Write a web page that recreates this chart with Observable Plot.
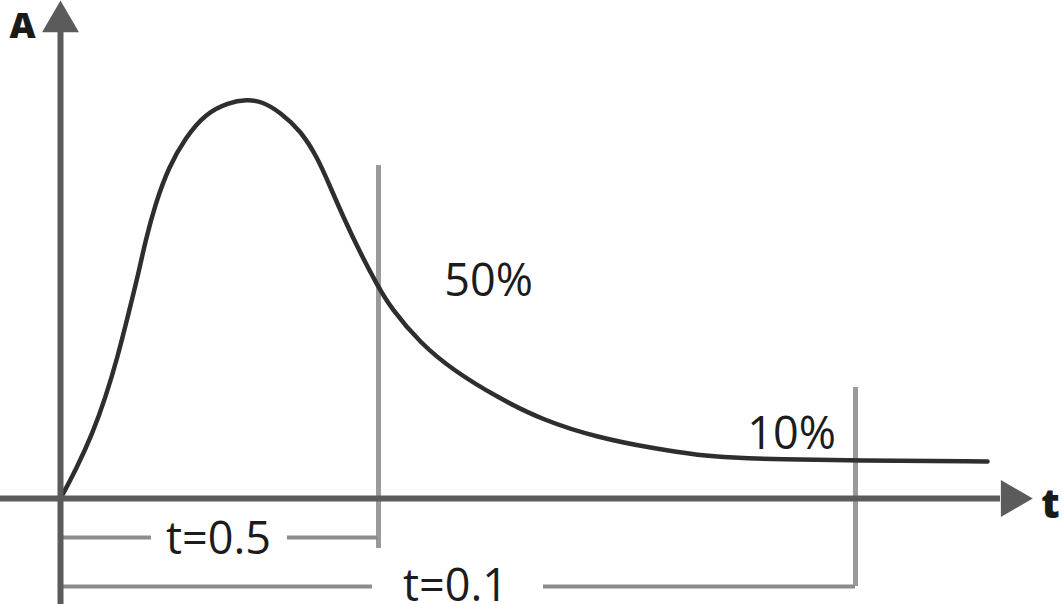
<!DOCTYPE html>
<html>
<head>
<meta charset="utf-8">
<script src="https://cdn.jsdelivr.net/npm/d3@7"></script>
<script src="https://cdn.jsdelivr.net/npm/@observablehq/plot@0.6"></script>
<style>
  html, body { margin: 0; padding: 0; background: #ffffff; }
  #chart svg { display: block; }
</style>
</head>
<body>
<div id="chart"></div>
<script>
// Curve (t, A)
const curveT = [0, 1.6, 3.2, 4.5, 5.7, 6.7, 7.7, 8.5, 9.5, 10.8, 12.5, 14.5, 16.8, 18.6, 20.2, 22, 24, 25.7, 27, 28.3, 30, 31.7, 33, 36, 39.3, 43.7, 48.3, 53.7, 59.3, 64, 67, 72, 79.3, 92.7];
const curveA = [0, 7.5, 16.25, 25.25, 35.25, 45.25, 55.25, 64.5, 73.75, 82.75, 90.25, 96.25, 99, 99.75, 99.25, 96.5, 92, 85.25, 77.75, 70.25, 61.25, 53.25, 47.75, 38.75, 32, 25.25, 19.5, 15.25, 12.5, 10.75, 10.25, 9.75, 9.5, 9.25];

// Vertical marker lines (t position, top, bottom)
const markerT = [31.8, 79.5];
const markerTop = [83.25, 27.75];
const markerBottom = [-12.5, -22];

// Level labels
const levelLabels = ["50%", "10%"];
const levelT = [42.8, 73.1];
const levelA = [50.75, 12.5];

// Dimension lines: labels, level, segment ends
const dimLabels = ["t=0.5", "t=0.1"];
const dimLevel = [-9.75, -22];
const dimLabelLevel = [-13.75, -25.5];
const dimLabelT = [15.8, 39.5];
const dimSeg1End = [9.1, 31.2];
const dimSeg2Start = [22.7, 48.3];

// Axes
const axisNames = ["A", "t"];
const axisNameT = [-3.8, 99];
const axisNameA = [115.25, -4.75];
const yAxisRange = [-26.5, 116.5];
const xAxisRange = [-6, 94];
const arrowT = [0, 95.1];
const arrowA = [119.2, 0];
const arrowRotate = [0, 90];

const curve = curveT.map((t, i) => ({t, A: curveA[i]}));
const markers = markerT.map((t, i) => ({t, y1: markerTop[i], y2: markerBottom[i]}));
const levels = levelLabels.map((label, i) => ({label, t: levelT[i], A: levelA[i]}));
const dimSegments = dimLabels.flatMap((label, i) => [
  {x1: 0, x2: dimSeg1End[i], A: dimLevel[i]},
  {x1: dimSeg2Start[i], x2: markerT[i], A: dimLevel[i]}
]);
const dimTexts = dimLabels.map((label, i) => ({label, t: dimLabelT[i], A: dimLabelLevel[i]}));
const names = axisNames.map((label, i) => ({label, t: axisNameT[i], A: axisNameA[i]}));
const arrows = arrowT.map((t, i) => ({t, A: arrowA[i], rotate: arrowRotate[i]}));

const axisColor = "#5b5b5b";
const font = "'Open Sans', 'DejaVu Sans', sans-serif";

const chart = Plot.plot({
  width: 1062,
  height: 604,
  marginLeft: 60,
  marginRight: 2,
  marginTop: 98,
  marginBottom: 106,
  x: {domain: [0, 100], axis: null},
  y: {domain: [0, 100], axis: null},
  style: {background: "#ffffff", overflow: "visible"},
  marks: [
    Plot.ruleX(markers, {x: "t", y1: "y1", y2: "y2", stroke: "#9a9a9a", strokeWidth: 5}),
    Plot.ruleY(dimSegments, {y: "A", x1: "x1", x2: "x2", stroke: "#8c8c8c", strokeWidth: 4}),
    Plot.line(curve, {x: "t", y: "A", curve: "basis", stroke: "#2e2e2e", strokeWidth: 4.5}),
    Plot.ruleX([0], {y1: yAxisRange[0], y2: yAxisRange[1], stroke: axisColor, strokeWidth: 6}),
    Plot.ruleY([0], {x1: xAxisRange[0], x2: xAxisRange[1], stroke: axisColor, strokeWidth: 6}),
    Plot.dot(arrows, {x: "t", y: "A", symbol: "triangle", r: 13.7, fill: axisColor, stroke: null, rotate: "rotate"}),
    Plot.text(levels, {x: "t", y: "A", text: "label", lineAnchor: "bottom", fontSize: 45, fontFamily: font, fill: "#1c1c1c"}),
    Plot.text(dimTexts, {x: "t", y: "A", text: "label", lineAnchor: "bottom", fontSize: 45, fontFamily: font, fill: "#1c1c1c"}),
    Plot.text(names.slice(0, 1), {x: "t", y: "A", text: "label", lineAnchor: "bottom", fontSize: 36, fontWeight: 800, fontFamily: font, fill: "#1a1a1a"}),
    Plot.text(names.slice(1), {x: "t", y: "A", text: "label", lineAnchor: "bottom", fontSize: 40, fontWeight: 800, fontFamily: font, fill: "#1a1a1a"})
  ]
});
document.getElementById("chart").appendChild(chart);
</script>
</body>
</html>
